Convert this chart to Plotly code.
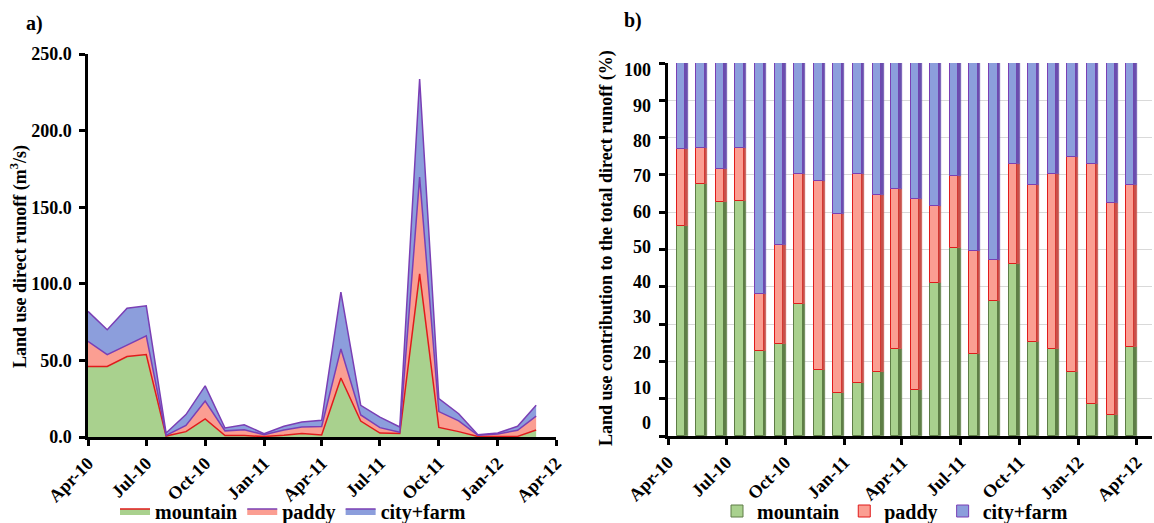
import numpy as np
import plotly.graph_objects as go

# Monthly time steps (first day of each month)
months = ["2010-04-01", "2010-05-01", "2010-06-01", "2010-07-01", "2010-08-01", "2010-09-01",
          "2010-10-01", "2010-11-01", "2010-12-01", "2011-01-01", "2011-02-01", "2011-03-01",
          "2011-04-01", "2011-05-01", "2011-06-01", "2011-07-01", "2011-08-01", "2011-09-01",
          "2011-10-01", "2011-11-01", "2011-12-01", "2012-01-01", "2012-02-01", "2012-03-01"]

# a) direct runoff by land use (m3/s)
mountain_q = [46.0, 46.0, 52.5, 53.8, 0.6, 3.5, 11.8, 1.0, 0.9, 0.3, 1.2, 2.3,
              1.3, 38.5, 10.4, 2.6, 2.3, 106.5, 6.2, 3.5, 0.3, 0.2, 0.4, 4.6]
paddy_q = [16.4, 7.7, 7.5, 12.2, 0.4, 4.0, 11.6, 3.0, 3.9, 1.2, 3.3, 4.2,
           5.6, 19.0, 4.0, 3.5, 0.8, 63.1, 10.4, 7.0, 0.8, 1.7, 4.0, 9.0]
city_q = [19.6, 16.3, 24.0, 19.6, 1.6, 7.1, 10.0, 1.9, 3.2, 0.7, 2.5, 3.3,
          4.0, 37.1, 6.3, 6.9, 3.4, 64.1, 8.4, 4.7, 0.4, 0.7, 2.6, 7.1]

# b) contribution to the total direct runoff (%)
mountain_pct = [56.3, 67.6, 62.8, 62.9, 22.8, 24.6, 35.4, 17.6, 11.6, 14.3, 17.2, 23.2,
                12.2, 41.1, 50.4, 21.9, 36.2, 46.0, 25.2, 23.2, 17.2, 8.7, 5.5, 23.8]
paddy_pct = [20.7, 9.6, 8.8, 14.2, 15.4, 26.7, 34.9, 50.9, 48.0, 56.0, 47.5, 42.9,
             51.4, 20.5, 19.2, 27.7, 11.1, 26.9, 42.0, 47.1, 57.5, 64.1, 57.0, 43.6]
city_pct = [23.0, 22.8, 28.4, 22.9, 61.8, 48.7, 29.7, 31.5, 40.4, 29.7, 35.3, 33.9,
            36.4, 38.4, 30.4, 50.4, 52.7, 27.1, 32.8, 29.7, 25.3, 27.2, 37.5, 32.6]

percent_ticks = [0, 10, 20, 30, 40, 50, 60, 70, 80, 90, 100]

W, H = 1154, 523
FONT = "Liberation Serif"
DAY = 86400000  # ms

GREEN, GREEN_EDGE, GREEN_SIDE = "#a9d18e", "#5e7d46", "#5f7f47"
RED, RED_EDGE, RED_SIDE = "#fb9e92", "#e01b1b", "#c9504a"
BLUE, BLUE_EDGE, BLUE_SIDE = "#8c9edc", "#7a3fb5", "#6a4fae"

fig = go.Figure()

# ---- a) stacked areas
for name, vals, fill, edge in [("mountain", mountain_q, GREEN, RED_EDGE),
                               ("paddy", paddy_q, RED, BLUE_EDGE),
                               ("city+farm", city_q, BLUE, BLUE_EDGE)]:
    fig.add_trace(go.Scatter(
        x=months, y=vals, name=name, mode="lines", stackgroup="runoff",
        fillcolor=fill, line=dict(color=edge, width=1.5),
        xaxis="x", yaxis="y", legend="legend"))

# ---- b) stacked percentage bars with a shaded side face
mountain_arr = np.array(mountain_pct)
paddy_arr = np.array(paddy_pct)
city_arr = np.array(city_pct)
stack = [("mountain", mountain_arr, np.zeros_like(mountain_arr), GREEN, GREEN_EDGE, GREEN_SIDE),
         ("paddy", paddy_arr, mountain_arr, RED, RED_EDGE, RED_SIDE),
         ("city+farm", city_arr, mountain_arr + paddy_arr, BLUE, BLUE_EDGE, BLUE_SIDE)]
for name, vals, base, face, edge, side in stack:
    fig.add_trace(go.Bar(
        x=months, y=vals, base=base, name=name,
        width=13 * DAY, offset=14 * DAY,
        marker=dict(color=face, line=dict(color=edge, width=1)),
        xaxis="x2", yaxis="y2", legend="legend2"))
    fig.add_trace(go.Bar(
        x=months, y=vals, base=base, name=name, showlegend=False,
        width=4 * DAY, offset=27 * DAY,
        marker=dict(color=side, line=dict(color=side, width=0.5)),
        xaxis="x2", yaxis="y2", hoverinfo="skip"))

# transparent companion trace so the label-only percent axis is rendered
fig.add_trace(go.Scatter(
    x=months, y=mountain_pct, mode="markers", marker=dict(opacity=0),
    showlegend=False, hoverinfo="skip", xaxis="x2", yaxis="y3"))


def px(xp):
    return xp / W


def py(yp):
    return (H - yp) / H


tickfont = dict(family=FONT, size=18, color="black", weight="bold")
axis_common = dict(showline=True, linecolor="black", linewidth=2.5, ticks="outside",
                   ticklen=6, tickwidth=2.5, tickcolor="black", tickfont=tickfont,
                   zeroline=False, automargin=False)


def label(text, x, y, size, angle=0):
    return dict(text=text, x=px(x), y=py(y), xref="paper", yref="paper",
                xanchor="center", yanchor="middle", textangle=angle, showarrow=False,
                font=dict(family=FONT, size=size, color="black", weight="bold"))


fig.update_layout(
    width=W, height=H, margin=dict(l=0, r=0, t=0, b=0, autoexpand=False),
    paper_bgcolor="white", plot_bgcolor="white",
    barmode="overlay", bargap=0,
    font=dict(family=FONT, color="black"),
    xaxis=dict(domain=[px(88), px(556)], type="date", anchor="y",
               range=["2010-04-01", "2012-04-01"], tick0="2010-04-01", dtick="M3",
               tickformat="%b-%y", tickangle=-45, showgrid=False, **axis_common),
    yaxis=dict(domain=[py(437), py(54)], anchor="x", range=[0, 250], dtick=50,
               tickformat=".1f", showgrid=False, ticklabelstandoff=4, **axis_common),
    xaxis2=dict(domain=[px(668), px(1152)], type="date", anchor="y2",
                range=["2010-04-01", "2012-04-25"], tick0="2010-04-01", dtick="M3",
                tickformat="%b-%y", tickangle=-45, showgrid=False, **axis_common),
    yaxis2=dict(domain=[py(436), py(63)], anchor="x2", range=[0, 100],
                tickvals=percent_ticks, showticklabels=False, showgrid=True,
                gridcolor="#d9d9d9", gridwidth=1, **axis_common),
    yaxis3=dict(overlaying="y2", anchor="x2", side="left", range=[-3.7, 102],
                tickvals=percent_ticks, showline=False, ticks="", showgrid=False,
                zeroline=False, tickfont=tickfont, ticklabelstandoff=16, automargin=False),
    legend=dict(orientation="h", x=px(293), y=py(511), xanchor="center", yanchor="middle",
                font=dict(family=FONT, size=20, color="black", weight="bold"),
                traceorder="normal", itemwidth=30, tracegroupgap=0,
                bgcolor="rgba(0,0,0,0)"),
    legend2=dict(orientation="h", x=px(895), y=py(511), xanchor="center", yanchor="middle",
                 font=dict(family=FONT, size=20, color="black", weight="bold"),
                 traceorder="normal", itemwidth=30, tracegroupgap=0,
                 bgcolor="rgba(0,0,0,0)"),
    annotations=[
        label("Land use direct runoff (m<sup>3</sup>/s)", 19, 257, 18, -90),
        label("Land use contribution to the total direct runoff (%)", 606, 248, 18, -90),
        label("a)", 34, 23, 20),
        label("b)", 633, 21, 20),
    ],
)

fig.write_html("out.html")
